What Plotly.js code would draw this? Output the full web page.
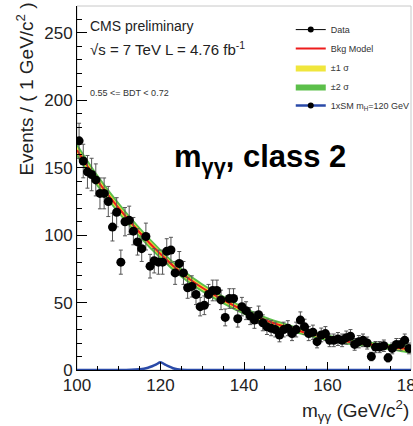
<!DOCTYPE html>
<html>
<head>
<meta charset="utf-8">
<script src="https://cdn.plot.ly/plotly-3.0.1.min.js"></script>
<style>html,body{margin:0;padding:0;background:#fff;overflow:hidden;}#chart{width:413px;height:426px;}</style>
</head>
<body>
<div id="chart"></div>
<script>
// Data: events per 1 GeV bin (bin centres)
const binCenters = [100.5,101.5,102.5,103.5,104.5,105.5,106.5,107.5,108.5,109.5,
  110.5,111.5,112.5,113.5,114.5,115.5,116.5,117.5,118.5,119.5,
  120.5,121.5,122.5,123.5,124.5,125.5,126.5,127.5,128.5,129.5,
  130.5,131.5,132.5,133.5,134.5,135.5,136.5,137.5,138.5,139.5,
  140.5,141.5,142.5,143.5,144.5,145.5,146.5,147.5,148.5,149.5,
  150.5,151.5,152.5,153.5,154.5,155.5,156.5,157.5,158.5,159.5,
  160.5,161.5,162.5,163.5,164.5,165.5,166.5,167.5,168.5,169.5,
  170.5,171.5,172.5,173.5,174.5,175.5,176.5,177.5,178.5,179.5];
const events = [170,155,147,145,141,131,131,125,106,117,
  80,110,111,103,95,90,99,77,81,80,
  80,88,89,72,79,72,61,62,56,47,
  48,56,59,59,52,39,53,53,38,47,
  44,40,37,41,35,32,31,30,26,30,
  31,27,30,37,32,27,28,21,26,27,
  22,22,23,22,24,25,19,21,22,20,
  10,17,17,18,9,16,19,19,22,16];

// Background model and its uncertainty
const modelMass = [100,105,110,115,120,125,130,135,140,145,150,155,160,165,170,175,180];
const modelValue = [163,140,120,102,86,72,61,52,44,37,32,27.5,24,21,19,17,15.5];
const modelSigma = [2.6,2.4,2.2,2.0,1.9,1.8,1.7,1.6,1.5,1.4,1.3,1.2,1.2,1.1,1.1,1.1,1.2];

// Signal 1xSM mH=120
const sigMass = [100,110,113,115,116,117,118,119,120,121,122,123,124,125,130,180];
const sigValue = [0,0,0.2,0.6,1.0,1.7,2.8,4.2,5.8,4.2,2.6,1.3,0.5,0.1,0,0];

const legendNames = ["Data","Bkg Model","\u00b11 \u03c3","\u00b12 \u03c3","1xSM m<sub>H</sub>=120 GeV"];

function band(k){
  const up = modelMass.map((m,i)=>modelValue[i]+k*modelSigma[i]);
  const lo = modelMass.map((m,i)=>modelValue[i]-k*modelSigma[i]);
  return {x: modelMass.concat(modelMass.slice().reverse()), y: up.concat(lo.reverse())};
}
const b2 = band(2), b1 = band(1);
const errs = events.map(v=>Math.sqrt(v));

const traces = [
  {x:b2.x, y:b2.y, type:'scatter', mode:'lines', fill:'toself', fillcolor:'#5cbf4a',
   line:{width:0, shape:'spline'}, name:legendNames[3], legendrank:4, hoverinfo:'skip'},
  {x:b1.x, y:b1.y, type:'scatter', mode:'lines', fill:'toself', fillcolor:'#f0e63c',
   line:{width:0, shape:'spline'}, name:legendNames[2], legendrank:3, hoverinfo:'skip'},
  {x:modelMass, y:modelValue, type:'scatter', mode:'lines', line:{color:'#ee1c1c', width:2, shape:'spline'},
   name:legendNames[1], legendrank:2},
  {x:sigMass, y:sigValue, type:'scatter', mode:'lines', line:{color:'#2a4aa8', width:2.5, shape:'spline'},
   showlegend:false},
  {x:binCenters, y:events, type:'scatter', mode:'markers',
   marker:{color:'#000', size:9},
   error_y:{type:'data', array:errs, visible:true, color:'#555', thickness:1, width:2},
   showlegend:false},
  {x:[null], y:[null], type:'scatter', mode:'lines+markers', line:{color:'#000',width:1},
   marker:{color:'#000',size:6}, name:legendNames[0], legendrank:1},
  {x:[null], y:[null], type:'scatter', mode:'lines+markers', line:{color:'#2a4aa8',width:2.5},
   marker:{color:'#000',size:6}, name:legendNames[4], legendrank:5}
];

const layout = {
  width:413, height:426,
  margin:{l:77, r:2, t:6, b:56, autoexpand:false},
  paper_bgcolor:'#fff', plot_bgcolor:'#fff',
  font:{family:'Liberation Sans, Arial, sans-serif', color:'#222'},
  showlegend:true,
  legend:{x:0.64, y:0.975, xanchor:'left', yanchor:'top', bgcolor:'rgba(0,0,0,0)',
    font:{size:9, color:'#333'}, tracegroupgap:0, itemwidth:30},
  xaxis:{range:[100,180], automargin:false, showgrid:false, zeroline:false, showline:true, linecolor:'#000', linewidth:1,
    ticks:'inside', ticklen:8, tickcolor:'#000', dtick:20, tick0:100, ticklabeloverflow:'allow',
    tickfont:{size:17, color:'#222'},
    minor:{dtick:5, ticks:'inside', ticklen:4, tickcolor:'#000'}},
  yaxis:{range:[0,270], automargin:false, showgrid:false, zeroline:false, showline:true, linecolor:'#000', linewidth:1,
    ticks:'inside', ticklen:10, tickcolor:'#000', dtick:50, tick0:0, ticklabeloverflow:'allow',
    tickfont:{size:17, color:'#222'},
    minor:{dtick:10, ticks:'inside', ticklen:5, tickcolor:'#000'}},
  shapes:[{type:'rect', xref:'paper', yref:'paper', x0:0, x1:1, y0:0, y1:1,
    line:{color:'#c8c8c8', width:1}, layer:'below'}],
  annotations:[
    {text:'CMS preliminary', xref:'paper', yref:'paper', x:0.033, y:0.945, xanchor:'left', yanchor:'middle',
     showarrow:false, font:{size:14, color:'#222'}},
    {text:'\u221as = 7 TeV L = 4.76 fb<sup>-1</sup>', xref:'paper', yref:'paper', x:0.033, y:0.882, xanchor:'left', yanchor:'middle',
     showarrow:false, font:{size:15, color:'#222'}},
    {text:'0.55 &lt;= BDT &lt; 0.72', xref:'paper', yref:'paper', x:0.033, y:0.76, xanchor:'left', yanchor:'middle',
     showarrow:false, font:{size:9, color:'#333'}},
    {text:'<b>m<sub>\u03b3\u03b3</sub>, class 2</b>', xref:'paper', yref:'paper', x:0.548, y:0.58, xanchor:'center', yanchor:'middle',
     showarrow:false, font:{size:31, color:'#000'}},
    {text:'m<sub>\u03b3\u03b3</sub> (GeV/c<sup>2</sup>)', xref:'paper', yref:'paper', x:1.0, y:-0.068, xanchor:'right', yanchor:'top',
     showarrow:false, font:{size:19, color:'#222'}},
    {text:'Events / ( 1 GeV/c<sup>2</sup> )', xref:'paper', yref:'paper', x:-0.156, y:1.016, xanchor:'center', yanchor:'top',
     textangle:-90, showarrow:false, font:{size:19, color:'#222'}}
  ]
};

Plotly.newPlot('chart', traces, layout, {displayModeBar:false, staticPlot:true});
</script>
</body>
</html>
